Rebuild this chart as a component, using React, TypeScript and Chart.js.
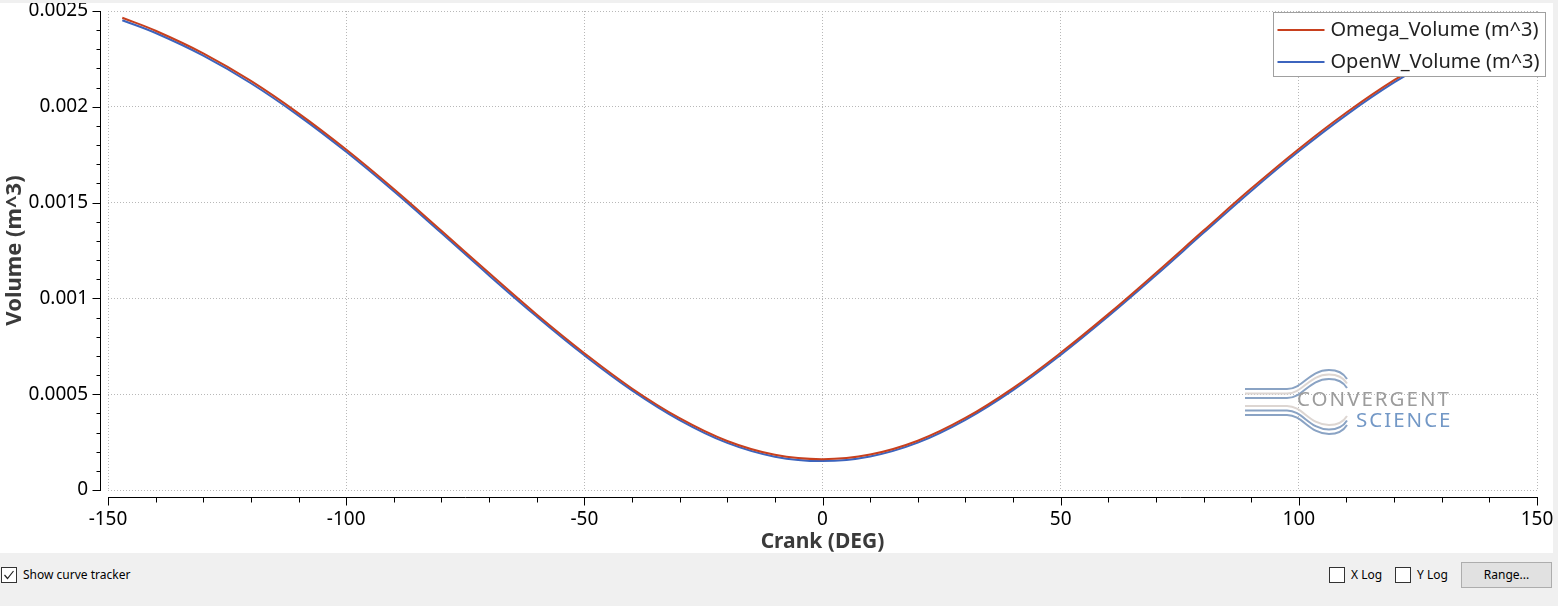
import React, { useEffect, useRef } from "react";
import { Chart, registerables } from "chart.js";

Chart.register(...registerables);

// ---------- data ----------
const crankDeg = [-147, -140, -130, -120, -110, -100, -90, -80, -70, -60, -50, -40, -30, -20, -10, 0, 10, 20, 30, 40, 50, 60, 70, 80, 90, 100, 110, 120, 130, 140, 147];
const omegaVolume = [0.002465, 0.002397, 0.002279, 0.002135, 0.001966, 0.001777, 0.001571, 0.001353, 0.001132, 0.000916, 0.000714, 0.00053, 0.000375, 0.000256, 0.000184, 0.000161, 0.000185, 0.000257, 0.000376, 0.000532, 0.000716, 0.000918, 0.001133, 0.001354, 0.001573, 0.00178, 0.00197, 0.002139, 0.002282, 0.0024, 0.002467];
const openWVolume = [0.002452, 0.002385, 0.002267, 0.002123, 0.001954, 0.001765, 0.001559, 0.001341, 0.00112, 0.000905, 0.000703, 0.00052, 0.000365, 0.000246, 0.000174, 0.000151, 0.000175, 0.000247, 0.000366, 0.000521, 0.000705, 0.000907, 0.001121, 0.001342, 0.001561, 0.001768, 0.001958, 0.002127, 0.00227, 0.002388, 0.002454];
const xTicks = [-150, -100, -50, 0, 50, 100, 150];
const yTicks = [0, 0.0005, 0.001, 0.0015, 0.002, 0.0025];
const seriesLabels = ["Omega_Volume (m^3)", "OpenW_Volume (m^3)"];
const seriesColors = ["#c8401e", "#3c64be"];
const xTitle = "Crank (DEG)";
const yTitle = "Volume (m^3)";

const FONT = '"Noto Sans", "Open Sans", sans-serif';

const fmtY = (v: number) => String(parseFloat(Number(v).toFixed(6)));

const decorPlugin = {
  id: "decor",
  beforeDatasetsDraw(chart: any) {
    const ctx = chart.ctx as CanvasRenderingContext2D;
    const { right, bottom } = chart.chartArea;
    // Convergent Science watermark
    const ox = right - 292; // ~1245
    const oy = bottom - 101; // ~386 canvas
    ctx.save();
    ctx.lineWidth = 2;
    const blue = "#8aa3c4";
    const light = "#ddd6d2";
    const topLines = [
      { y: oy, c: blue },
      { y: oy + 4.5, c: light },
      { y: oy + 9, c: blue },
    ];
    for (const l of topLines) {
      ctx.strokeStyle = l.c;
      ctx.beginPath();
      ctx.moveTo(ox, l.y);
      ctx.lineTo(ox + 42, l.y);
      ctx.bezierCurveTo(ox + 58, l.y, ox + 64, l.y - 19, ox + 84, l.y - 19);
      ctx.bezierCurveTo(ox + 94, l.y - 19, ox + 99, l.y - 15, ox + 102, l.y - 10);
      ctx.stroke();
    }
    const botLines = [
      { y: oy + 17, c: light },
      { y: oy + 21.5, c: blue },
      { y: oy + 26, c: blue },
    ];
    for (const l of botLines) {
      ctx.strokeStyle = l.c;
      ctx.beginPath();
      ctx.moveTo(ox, l.y);
      ctx.lineTo(ox + 42, l.y);
      ctx.bezierCurveTo(ox + 58, l.y, ox + 64, l.y + 19, ox + 84, l.y + 19);
      ctx.bezierCurveTo(ox + 94, l.y + 19, ox + 99, l.y + 15, ox + 102, l.y + 10);
      ctx.stroke();
    }
    ctx.font = `20.5px ${FONT}`;
    (ctx as any).letterSpacing = "2px";
    ctx.textBaseline = "middle";
    ctx.textAlign = "left";
    ctx.fillStyle = "#9c9c9c";
    ctx.fillText("CONVERGENT", ox + 52, oy + 11);
    ctx.fillStyle = "#7398c6";
    ctx.fillText("SCIENCE", ox + 111, oy + 32.5);
    ctx.restore();
  },
  afterDraw(chart: any) {
    const ctx = chart.ctx as CanvasRenderingContext2D;
    const xs = chart.scales.x;
    const ys = chart.scales.y;
    const { left, right, top, bottom } = chart.chartArea;
    ctx.save();
    ctx.strokeStyle = "#000";
    ctx.lineWidth = 1;
    // Y axis (offset left of plot)
    const ax = Math.round(left - 8) + 0.5;
    ctx.beginPath();
    ctx.moveTo(ax, Math.round(top));
    ctx.lineTo(ax, Math.round(bottom) + 1);
    for (let i = 0; i < yTicks.length; i++) {
      const py = Math.round(ys.getPixelForValue(yTicks[i])) + 0.5;
      ctx.moveTo(ax - 8, py);
      ctx.lineTo(ax, py);
      if (i < yTicks.length - 1) {
        const step = (yTicks[i + 1] - yTicks[i]) / 5;
        for (let k = 1; k < 5; k++) {
          const my = Math.round(ys.getPixelForValue(yTicks[i] + step * k)) + 0.5;
          ctx.moveTo(ax - 4, my);
          ctx.lineTo(ax, my);
        }
      }
    }
    // X axis (offset below plot)
    const ay = Math.round(bottom + 7) + 0.5;
    ctx.moveTo(Math.round(left), ay);
    ctx.lineTo(Math.round(right) + 1, ay);
    for (let i = 0; i < xTicks.length; i++) {
      const px = Math.round(xs.getPixelForValue(xTicks[i])) + 0.5;
      ctx.moveTo(px, ay);
      ctx.lineTo(px, ay + 8);
      if (i < xTicks.length - 1) {
        const step = (xTicks[i + 1] - xTicks[i]) / 5;
        for (let k = 1; k < 5; k++) {
          const mx = Math.round(xs.getPixelForValue(xTicks[i] + step * k)) + 0.5;
          ctx.moveTo(mx, ay);
          ctx.lineTo(mx, ay + 5);
        }
      }
    }
    ctx.stroke();

    // Legend box (inside plot, top-right, over the curves)
    ctx.font = `20px ${FONT}`;
    const datasets = chart.data.datasets;
    let textW = 0;
    for (const d of datasets) textW = Math.max(textW, ctx.measureText(d.label).width);
    const boxRight = Math.round(right + 8) + 0.5;
    const boxW = 4 + 47 + 6 + textW + 6;
    const boxLeft = Math.round(boxRight - boxW) + 0.5;
    const boxTop = Math.round(top + 1) + 0.5;
    const rowH = 32;
    const boxH = rowH * datasets.length;
    ctx.fillStyle = "#ffffff";
    ctx.fillRect(boxLeft, boxTop, boxRight - boxLeft, boxH);
    ctx.strokeStyle = "#a0a0a0";
    ctx.lineWidth = 1;
    ctx.strokeRect(boxLeft, boxTop, boxRight - boxLeft, boxH);
    ctx.textBaseline = "middle";
    ctx.textAlign = "left";
    datasets.forEach((d: any, i: number) => {
      const cy = boxTop + 17.5 + i * rowH;
      ctx.strokeStyle = d.borderColor;
      ctx.lineWidth = 2;
      ctx.beginPath();
      ctx.moveTo(boxLeft + 4, Math.round(cy));
      ctx.lineTo(boxLeft + 51, Math.round(cy));
      ctx.stroke();
      ctx.fillStyle = "#222222";
      ctx.fillText(d.label, boxLeft + 57, cy);
    });
    ctx.restore();
  },
};

function Checkbox({ left, top, checked }: { left: number; top: number; checked?: boolean }) {
  return (
    <div
      style={{
        position: "absolute",
        left,
        top,
        width: 14,
        height: 14,
        border: "1px solid #333",
        background: "#fff",
      }}
    >
      {checked ? (
        <svg width="14" height="14" style={{ position: "absolute", left: 0, top: 0 }}>
          <polyline points="2.5,7 5.5,10.5 11.5,3" fill="none" stroke="#222" strokeWidth="1.2" />
        </svg>
      ) : null}
    </div>
  );
}

const labelStyle: React.CSSProperties = {
  position: "absolute",
  font: `12px ${FONT}`,
  color: "#000",
  lineHeight: "16px",
  whiteSpace: "nowrap",
};

export default function App() {
  const canvasRef = useRef<HTMLCanvasElement | null>(null);

  useEffect(() => {
    const canvas = canvasRef.current;
    if (!canvas) return;
    const chart = new Chart(canvas, {
      type: "line",
      data: {
        datasets: [
          {
            label: seriesLabels[0],
            data: crankDeg.map((x, i) => ({ x, y: omegaVolume[i] })),
            borderColor: seriesColors[0],
            backgroundColor: seriesColors[0],
            borderWidth: 2,
            pointRadius: 0,
            tension: 0.4,
            fill: false,
          },
          {
            label: seriesLabels[1],
            data: crankDeg.map((x, i) => ({ x, y: openWVolume[i] })),
            borderColor: seriesColors[1],
            backgroundColor: seriesColors[1],
            borderWidth: 2,
            pointRadius: 0,
            tension: 0.4,
            fill: false,
          },
        ],
      },
      options: {
        animation: false,
        responsive: false,
        maintainAspectRatio: false,
        devicePixelRatio: 1,
        layout: { padding: { top: 8, right: 16, left: 0, bottom: 0 } },
        plugins: {
          legend: { display: false },
          tooltip: { enabled: false },
        },
        scales: {
          x: {
            type: "linear",
            min: xTicks[0],
            max: xTicks[xTicks.length - 1],
            afterBuildTicks: (s: any) => {
              s.ticks = xTicks.map((v) => ({ value: v }));
            },
            afterFit: (s: any) => {
              s.height = 63;
              s.paddingLeft = 0;
              s.paddingRight = 0;
              s.paddingTop = 0;
              s.paddingBottom = 0;
            },
            grid: { color: "#b8b8b8", lineWidth: 1, drawTicks: false },
            border: { display: false, dash: [1, 2] },
            ticks: {
              padding: 18,
              color: "#000",
              font: { family: FONT, size: 19 },
              maxRotation: 0,
              autoSkip: false,
              callback: (v: any) => String(v),
            },
            title: {
              display: true,
              text: xTitle,
              color: "#3a3a3a",
              font: { family: FONT, size: 21, weight: "bold", lineHeight: 1 },
              padding: { top: 0, bottom: 0 },
            },
          },
          y: {
            type: "linear",
            min: yTicks[0],
            max: yTicks[yTicks.length - 1],
            afterBuildTicks: (s: any) => {
              s.ticks = yTicks.map((v) => ({ value: v }));
            },
            afterFit: (s: any) => {
              s.width = 108;
              s.paddingLeft = 0;
              s.paddingRight = 0;
              s.paddingTop = 0;
              s.paddingBottom = 0;
            },
            grid: { color: "#b8b8b8", lineWidth: 1, drawTicks: false },
            border: { display: false, dash: [1, 2] },
            ticks: {
              padding: 20,
              color: "#000",
              font: { family: FONT, size: 19 },
              autoSkip: false,
              callback: (v: any) => fmtY(v),
            },
            title: {
              display: true,
              text: yTitle,
              color: "#3a3a3a",
              font: { family: FONT, size: 22, weight: "bold", lineHeight: 1 },
              padding: { top: 4, bottom: 0 },
            },
          },
        },
      },
      plugins: [decorPlugin],
    } as any);
    return () => chart.destroy();
  }, []);

  return (
    <div
      style={{
        position: "relative",
        width: 1558,
        height: 606,
        background: "#f0f0f0",
        overflow: "hidden",
      }}
    >
      <style>{`body{margin:0;}`}</style>
      <canvas
        ref={canvasRef}
        width={1553}
        height={550}
        style={{ position: "absolute", left: 0, top: 3, width: 1553, height: 550, background: "#fff" }}
      />
      <Checkbox left={1} top={567} checked />
      <div style={{ ...labelStyle, left: 23, top: 567 }}>Show curve tracker</div>
      <Checkbox left={1329} top={567} />
      <div style={{ ...labelStyle, left: 1351, top: 567 }}>X Log</div>
      <Checkbox left={1395} top={567} />
      <div style={{ ...labelStyle, left: 1417, top: 567 }}>Y Log</div>
      <div
        style={{
          position: "absolute",
          left: 1461,
          top: 562,
          width: 89,
          height: 24,
          background: "#e1e1e1",
          border: "1px solid #adadad",
          font: `12px ${FONT}`,
          color: "#000",
          lineHeight: "24px",
          textAlign: "center",
        }}
      >
        Range...
      </div>
    </div>
  );
}
